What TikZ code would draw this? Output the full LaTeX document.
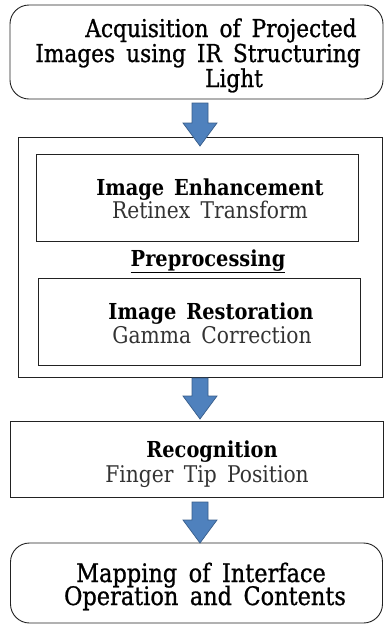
\documentclass[tikz,border=0pt]{standalone}
\usepackage{fontspec}
\setmainfont[FakeStretch=0.88]{DejaVu Serif}
\newfontfamily\headfont[FakeStretch=0.88, FakeBold=0.9]{DejaVu Serif}
\usetikzlibrary{calc}
\definecolor{arrowblue}{HTML}{4F81BD}
\definecolor{arrowedge}{HTML}{385D8A}
\definecolor{boxline}{HTML}{222222}
% wider word gaps
\newcommand\widegaps{\spaceskip=0.45em plus 0.1em\relax}
\begin{document}
\begin{tikzpicture}[x=1pt,y=-1pt,
  frame/.style={draw=boxline, line width=0.9pt, inner sep=0pt, outer sep=0pt},
  roundframe/.style={frame, rounded corners=19pt},
  blockarrow/.style={fill=arrowblue, draw=arrowedge, line width=0.7pt, line join=miter},
  txt/.style={anchor=base, inner sep=0pt, text height=0.72em, text depth=0.15em},
  headtext/.style={txt, font=\headfont\fontsize{24.6}{24}\selectfont\widegaps},
  maptext/.style={txt, font=\headfont\fontsize{25.5}{24}\selectfont\widegaps},
  titletext/.style={txt, font=\bfseries\fontsize{22}{22}\selectfont\widegaps},
  subtext/.style={txt, font=\fontsize{23}{22}\selectfont\widegaps, text=black!80}]
\useasboundingbox (0,0) rectangle (384,625);

% a downward block arrow from #1 to #2 (same x)
\newcommand\downblock[2]{%
  \draw[blockarrow] let \p1=(#1), \p2=(#2) in
    (\x1-8pt,\y1) -- (\x1+8pt,\y1) -- (\x1+8pt,\y2+23pt) -- (\x1+17pt,\y2+23pt)
    -- (\x1,\y2) -- (\x1-17pt,\y2+23pt) -- (\x1-8pt,\y2+23pt) -- cycle;}

% boxes
\node[roundframe, minimum width=373pt, minimum height=94pt] (acq) at (196.5,52) {};
\node[frame, minimum width=364pt, minimum height=240pt] (pre) at (200,257) {};
\node[frame, minimum width=322pt, minimum height=87pt] (enh) at (197,197.5) {};
\node[frame, minimum width=322pt, minimum height=87pt] (res) at (199,321.5) {};
\node[frame, minimum width=373pt, minimum height=76pt] (rec) at (196.5,459) {};
\node[roundframe, minimum width=372pt, minimum height=80pt] (map) at (196.5,583) {};

% texts
\node[headtext] (acq1) at (221,37) {Acquisition of Projected};
\node[headtext] (acq2) at (198,62) {Images using IR Structuring};
\node[headtext] (acq3) at (234,87) {Light};

\node[titletext] (enh1) at (210,195) {Image Enhancement};
\node[subtext] (enh2) at (210,218) {Retinex Transform};

\node[titletext] (pretitle) at (208,266) {\underline{Preprocessing}};

\node[titletext] (res1) at (211,319) {Image Restoration};
\node[subtext] (res2) at (212,343) {Gamma Correction};

\node[titletext] (rec1) at (212,457) {Recognition};
\node[subtext] (rec2) at (207,482) {Finger Tip Position};

\node[maptext] (map1) at (201,582) {Mapping of Interface};
\node[maptext] (map2) at (205,605) {Operation and Contents};

% block arrows between stages
\coordinate (ax) at (200,0);
\downblock{$(acq.south -| ax)+(0,4)$}{$(pre.north -| ax)+(0,9)$}
\downblock{$(pre.south -| ax)+(0,1)$}{$(rec.north -| ax)+(0,-2)$}
\downblock{$(rec.south -| ax)+(0,5)$}{$(map.north -| ax)+(0,0)$}
\end{tikzpicture}
\end{document}
